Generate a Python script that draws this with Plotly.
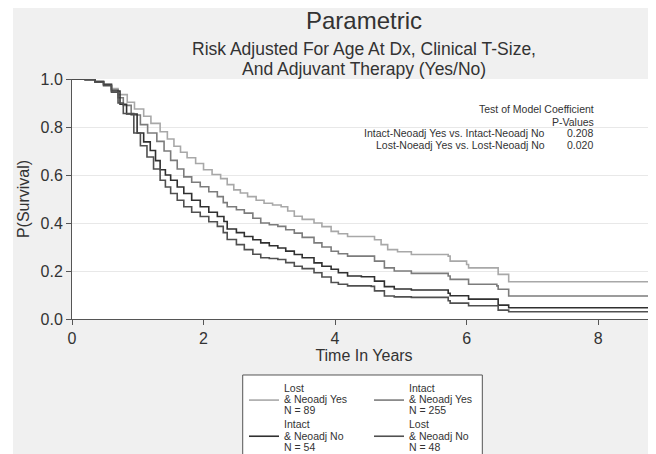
"""
Curvas de sobrevida ajustadas por risco - modelo paramétrico
"""
import plotly.graph_objects as go

# tempo (anos) e P(sobrevida), por grupo
t_lost_yes = [0, 0.2, 0.35, 0.48, 0.6, 0.7, 0.84, 0.95, 1.09, 1.2, 1.34, 1.45, 1.55, 1.65, 1.75,
              1.88, 2.0, 2.13, 2.26, 2.36, 2.46, 2.56, 2.67, 2.8, 2.92, 3.05, 3.18, 3.28, 3.38,
              3.5, 3.68, 3.8, 3.94, 4.05, 4.19, 4.55, 4.6, 4.7, 4.8, 4.95, 5.16, 5.72, 5.75,
              6.0, 6.03, 6.46, 6.48, 6.64, 8.88]
s_lost_yes = [1.0, 0.998, 0.99, 0.98, 0.96, 0.935, 0.903, 0.875, 0.845, 0.815, 0.78, 0.75, 0.72,
              0.695, 0.672, 0.648, 0.622, 0.602, 0.585, 0.56, 0.538, 0.525, 0.51, 0.495, 0.482,
              0.475, 0.468, 0.45, 0.428, 0.415, 0.4, 0.385, 0.365, 0.355, 0.344, 0.344, 0.33,
              0.31, 0.289, 0.28, 0.269, 0.262, 0.241, 0.227, 0.213, 0.213, 0.186, 0.155, 0.155]

t_intact_yes = [0, 0.2, 0.35, 0.48, 0.6, 0.7, 0.78, 0.9, 1.04, 1.15, 1.29, 1.4, 1.5, 1.6, 1.7,
                1.82, 1.95, 2.08, 2.21, 2.3, 2.36, 2.5, 2.62, 2.75, 2.87, 3.0, 3.13, 3.25, 3.38,
                3.5, 3.68, 3.8, 3.94, 4.05, 4.19, 4.55, 4.6, 4.75, 4.9, 5.16, 5.72, 5.75, 6.03,
                6.46, 6.48, 6.64, 8.88]
s_intact_yes = [1.0, 0.998, 0.99, 0.978, 0.955, 0.922, 0.89, 0.85, 0.81, 0.775, 0.74, 0.70, 0.661,
                0.625, 0.592, 0.57, 0.551, 0.53, 0.51, 0.485, 0.468, 0.455, 0.441, 0.42, 0.40,
                0.393, 0.386, 0.372, 0.358, 0.34, 0.317, 0.30, 0.282, 0.272, 0.262, 0.262, 0.241,
                0.213, 0.20, 0.19, 0.179, 0.165, 0.145, 0.138, 0.124, 0.096, 0.096]

t_intact_no = [0, 0.2, 0.35, 0.48, 0.6, 0.73, 0.83, 0.99, 1.09, 1.19, 1.27, 1.34, 1.42, 1.5, 1.6,
               1.7, 1.82, 1.95, 2.08, 2.21, 2.31, 2.36, 2.5, 2.62, 2.75, 2.87, 3.0, 3.13, 3.25,
               3.38, 3.5, 3.68, 3.8, 3.94, 4.05, 4.19, 4.4, 4.6, 4.75, 4.9, 5.16, 5.72, 5.75,
               6.03, 6.46, 6.48, 6.64, 8.88]
s_intact_no = [1.0, 0.997, 0.988, 0.975, 0.95, 0.895, 0.854, 0.775, 0.738, 0.702, 0.66, 0.622,
               0.60, 0.578, 0.55, 0.523, 0.495, 0.468, 0.445, 0.427, 0.406, 0.375, 0.36, 0.344,
               0.33, 0.317, 0.305, 0.296, 0.283, 0.269, 0.255, 0.234, 0.22, 0.207, 0.193, 0.179,
               0.176, 0.158, 0.135, 0.125, 0.121, 0.107, 0.097, 0.083, 0.083, 0.058, 0.047, 0.047]

t_lost_no = [0, 0.2, 0.35, 0.48, 0.6, 0.7, 0.78, 0.94, 1.04, 1.14, 1.24, 1.34, 1.42, 1.5, 1.6,
             1.7, 1.82, 1.95, 2.08, 2.21, 2.3, 2.36, 2.5, 2.62, 2.75, 2.87, 3.0, 3.13, 3.25,
             3.38, 3.5, 3.68, 3.8, 3.94, 4.05, 4.19, 4.55, 4.6, 4.75, 4.9, 5.16, 5.72, 5.75,
             6.03, 6.46, 6.48, 6.64, 8.88]
s_lost_no = [1.0, 0.997, 0.987, 0.972, 0.945, 0.9, 0.856, 0.775, 0.722, 0.675, 0.625, 0.578,
             0.55, 0.523, 0.495, 0.468, 0.445, 0.427, 0.405, 0.386, 0.36, 0.331, 0.31, 0.289,
             0.27, 0.255, 0.252, 0.248, 0.235, 0.22, 0.21, 0.193, 0.175, 0.152, 0.145, 0.138,
             0.136, 0.117, 0.096, 0.092, 0.09, 0.076, 0.066, 0.055, 0.055, 0.037, 0.030, 0.030]

nomes = [["Lost", "& Neoadj Yes", "N = 89"], ["Intact", "& Neoadj Yes", "N = 255"],
         ["Intact", "& Neoadj No", "N = 54"], ["Lost", "& Neoadj No", "N = 48"]]
CORES = ["#a8a8a8", "#7c7c7c", "#303030", "#505050"]

tick_x = [0, 2, 4, 6, 8]

p_labels = ["Intact-Neoadj Yes vs. Intact-Neoadj No", "Lost-Noeadj Yes vs. Lost-Neoadj No"]
p_values = ["0.208", "0.020"]

FONTE = "Liberation Sans, Arial, sans-serif"

series = [
    (t_lost_yes, s_lost_yes, "legend"),
    (t_intact_yes, s_intact_yes, "legend2"),
    (t_intact_no, s_intact_no, "legend"),
    (t_lost_no, s_lost_no, "legend2"),
]


def nome_legenda(linhas):
    # texto um pouco maior que a fonte da legenda -> linhas mais juntas, como no original
    return "<br>".join('<span style="font-size:10.5px">%s</span>' % l for l in linhas)


fig = go.Figure()
for (t, s, leg), nome, cor in zip(series, nomes, CORES):
    fig.add_trace(go.Scatter(
        x=t, y=s, mode="lines", name=nome_legenda(nome), legend=leg,
        line=dict(color=cor, width=1.6, shape="hv"),
    ))


def texto(txt, x, y, size, xanchor="center"):
    fig.add_annotation(text=txt, xref="paper", yref="paper", x=x, y=y,
                       xanchor=xanchor, yanchor="middle", showarrow=False,
                       font=dict(family=FONTE, size=size, color="#333"))


# titulo e subtitulo
texto("Parametric", 0.5, 1.243, 24)
texto("Risk Adjusted For Age At Dx, Clinical T-Size,", 0.5, 1.125, 17.5)
texto("And Adjuvant Therapy (Yes/No)", 0.5, 1.043, 17.5)

# tabela de p-valores
texto("Test of Model Coefficient", 0.897, 0.875, 10.5, "right")
texto("P-Values", 0.897, 0.822, 10.5, "right")
for i, (lab, pv) in enumerate(zip(p_labels, p_values)):
    yy = 0.776 - i * 0.051
    texto(lab, 0.813, yy, 10.5, "right")
    texto(pv, 0.896, yy, 10.5, "right")

# faixa branca à esquerda (borda da imagem) e caixa da legenda
fig.add_shape(type="rect", xref="paper", yref="paper", x0=-0.12, x1=-0.101, y0=-0.9, y1=1.4,
              fillcolor="white", line=dict(width=0), layer="above")
fig.add_shape(type="rect", xref="paper", yref="paper", x0=0.2923, x1=0.7026, y0=-0.85, y1=-0.2333,
              fillcolor="white", line=dict(color="#555", width=1), layer="above")

leg_base = dict(orientation="v", yanchor="top", xanchor="left", y=-0.2417,
                bgcolor="rgba(0,0,0,0)", borderwidth=0, tracegroupgap=0,
                font=dict(family=FONTE, size=8.5, color="#333"))

# a página tem margem de 8px no body: a figura é deslocada para compensar
fig.update_layout(
    width=648, height=500,
    margin=dict(l=64, r=0, t=71, b=189),
    paper_bgcolor="#f0f0f0",
    plot_bgcolor="white",
    font=dict(family=FONTE, color="#333"),
    legend=dict(leg_base, x=0.2945),
    legend2=dict(leg_base, x=0.5086),
    xaxis=dict(
        range=[0, 8.88], tickvals=tick_x, showgrid=False, zeroline=False,
        showline=True, linecolor="#555", linewidth=1,
        ticks="outside", ticklen=5, tickcolor="#555",
        tickfont=dict(size=16, color="#333"),
        title=dict(text="Time In Years", font=dict(size=16, color="#333"), standoff=2),
    ),
    yaxis=dict(
        range=[0, 1], dtick=0.2, tickformat=".1f", showgrid=True, gridcolor="#e8e8e8",
        zeroline=False, showline=True, linecolor="#555", linewidth=1,
        ticks="outside", ticklen=5, tickcolor="#555",
        tickfont=dict(size=16, color="#333"),
        title=dict(text="P(Survival)", font=dict(size=16, color="#333"), standoff=6),
    ),
)

fig.write_html("out.html")
